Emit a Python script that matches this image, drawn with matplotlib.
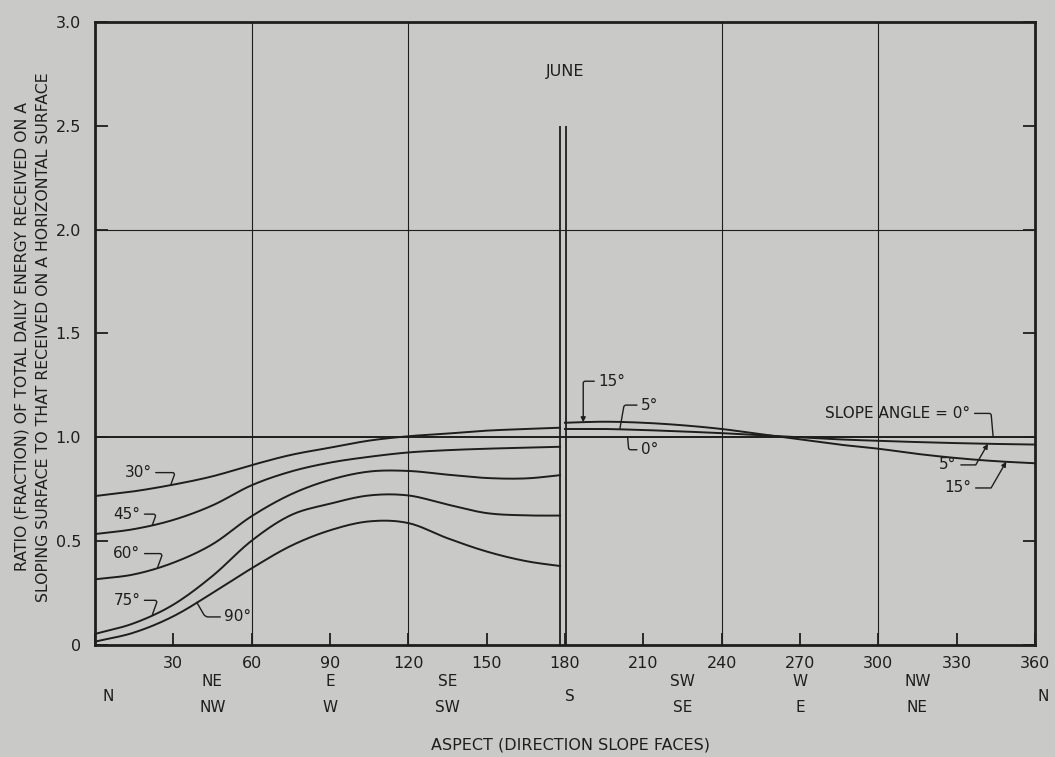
import numpy as np
import matplotlib
matplotlib.use("Agg")
import matplotlib.pyplot as plt

# ---- data (ratio of slope / horizontal daily energy, June) ----
# north-facing half: aspect 0..180, steep slopes
aspect_left = [0, 15, 30, 45, 60, 75, 90, 105, 120, 135, 150, 165, 180]
slope30 = [0.717, 0.74, 0.772, 0.812, 0.866, 0.915, 0.95, 0.984, 1.005, 1.018, 1.032, 1.04, 1.047]
slope45 = [0.534, 0.558, 0.602, 0.672, 0.769, 0.835, 0.878, 0.906, 0.927, 0.938, 0.945, 0.95, 0.955]
slope60 = [0.316, 0.34, 0.396, 0.485, 0.62, 0.725, 0.795, 0.835, 0.838, 0.82, 0.804, 0.802, 0.82]
slope75 = [0.053, 0.105, 0.194, 0.332, 0.502, 0.625, 0.68, 0.72, 0.72, 0.676, 0.635, 0.624, 0.623]
slope90 = [0.016, 0.06, 0.138, 0.25, 0.369, 0.477, 0.552, 0.595, 0.587, 0.514, 0.45, 0.404, 0.377]

# south-facing half: aspect 180..360, gentle slopes
aspect_right = [180, 195, 210, 225, 240, 255, 270, 285, 300, 315, 330, 345, 360]
slope5 = [1.04, 1.04, 1.035, 1.028, 1.02, 1.01, 1.0, 0.99, 0.983, 0.977, 0.972, 0.968, 0.965]
slope15 = [1.07, 1.075, 1.07, 1.058, 1.04, 1.015, 0.99, 0.965, 0.945, 0.92, 0.9, 0.885, 0.875]

aspect_full = [0, 360]
slope0 = [1.0, 1.0]

compass_top = [(45, "NE"), (90, "E"), (135, "SE"), (225, "SW"), (270, "W"), (315, "NW")]
compass_bot = [(45, "NW"), (90, "W"), (135, "SW"), (225, "SE"), (270, "E"), (315, "NE")]
compass_mid = [(0, "N"), (180, "S"), (360, "N")]

ink = "#1e1e1e"
paper = "#c9c9c8"


def smooth(xs, ys, n=16):
    # cubic hermite through the read points, just for drawing
    xs = np.asarray(xs, float)
    ys = np.asarray(ys, float)
    m = np.gradient(ys, xs)
    ox, oy = [], []
    for i in range(len(xs) - 1):
        h = xs[i + 1] - xs[i]
        t = np.linspace(0, 1, n, endpoint=False)
        h00 = 2 * t**3 - 3 * t**2 + 1
        h10 = t**3 - 2 * t**2 + t
        h01 = -2 * t**3 + 3 * t**2
        h11 = t**3 - t**2
        ox.append(xs[i] + t * h)
        oy.append(h00 * ys[i] + h10 * h * m[i] + h01 * ys[i + 1] + h11 * h * m[i + 1])
    ox.append([xs[-1]])
    oy.append([ys[-1]])
    return np.concatenate(ox), np.concatenate(oy)


plt.rcParams["font.family"] = "DejaVu Sans"
fig = plt.figure(figsize=(10.55, 7.57), dpi=100, facecolor=paper)
ax = fig.add_axes([0.090, 0.148, 0.891, 0.823], facecolor=paper)

ax.set_xlim(0, 360)
ax.set_ylim(0, 3.0)

# grid
for gx in [60, 120, 240, 300]:
    ax.axvline(gx, color=ink, lw=0.8, zorder=1)
ax.axhline(2.0, color=ink, lw=0.8, zorder=1)

# curves
left = {"30°": slope30, "45°": slope45, "60°": slope60, "75°": slope75, "90°": slope90}
right = {"5°": slope5, "15°": slope15}
for name, vals in left.items():
    sx, sy = smooth(aspect_left, vals)
    keep = sx <= 178.3
    ax.plot(sx[keep], sy[keep], color=ink, lw=1.4, zorder=3)
for name, vals in right.items():
    sx, sy = smooth(aspect_right, vals)
    ax.plot(sx, sy, color=ink, lw=1.4, zorder=3)
ax.plot(aspect_full, slope0, color=ink, lw=1.4, zorder=3)

# double separator line at south
ax.vlines([178.0, 180.4], 0, 2.5, color=ink, lw=1.3, zorder=4)

# spines / ticks
for s in ax.spines.values():
    s.set_linewidth(2.0)
    s.set_color(ink)
ax.set_xticks(np.arange(0, 361, 30))
ax.set_xticklabels([""] + [str(v) for v in range(30, 361, 30)])
ax.set_yticks(np.arange(0, 3.01, 0.5))
ax.set_yticklabels(["0", "0.5", "1.0", "1.5", "2.0", "2.5", "3.0"])
ax.tick_params(axis="both", direction="in", length=9, width=1.3, colors=ink,
               labelsize=11.5, labelcolor=ink)
ax.tick_params(axis="y", right=True, pad=10)
ax.tick_params(axis="x", pad=8)

# compass directions under the degrees
tr = ax.get_xaxis_transform()
for x, lab in compass_top:
    ax.text(x, -0.058, lab, transform=tr, ha="center", va="center", fontsize=11, color=ink)
for x, lab in compass_bot:
    ax.text(x, -0.101, lab, transform=tr, ha="center", va="center", fontsize=11, color=ink)
for x, lab in compass_mid:
    ax.text(x + (5 if x == 0 else 3 if x == 360 else 2), -0.083, lab, transform=tr,
            ha="center", va="center", fontsize=11, color=ink)

ax.text(182, -0.16, "ASPECT (DIRECTION SLOPE FACES)", transform=tr, ha="center",
        va="center", fontsize=11.5, color=ink)

fig.text(0.031, 0.555,
         "RATIO (FRACTION) OF TOTAL DAILY ENERGY RECEIVED ON A\n"
         "SLOPING SURFACE TO THAT RECEIVED ON A HORIZONTAL SURFACE",
         rotation=90, ha="center", va="center", fontsize=11.3, color=ink,
         linespacing=1.55, multialignment="center")

ax.text(180, 2.76, "JUNE", ha="center", va="center", fontsize=11.5, color=ink)


# labels with hand-drawn style leaders
def label(txt, series_x, series_y, at, pos, conn, arrow=False, ha="center"):
    y_at = np.interp(at, series_x, series_y)
    ax.annotate(txt, xy=(at, y_at), xytext=pos, ha=ha, va="center", fontsize=11,
                color=ink,
                arrowprops=dict(arrowstyle="-|>" if arrow else "-", color=ink, lw=1.0,
                                mutation_scale=7, shrinkA=1, shrinkB=0,
                                connectionstyle=conn))


label("30°", aspect_left, slope30, 29, (16.5, 0.83), "angle,angleA=0,angleB=70,rad=3")
label("45°", aspect_left, slope45, 22, (12.2, 0.63), "angle,angleA=0,angleB=70,rad=3")
label("60°", aspect_left, slope60, 24, (12.2, 0.44), "angle,angleA=0,angleB=70,rad=3")
label("75°", aspect_left, slope75, 22, (12.2, 0.215), "angle,angleA=0,angleB=70,rad=3")
label("90°", aspect_left, slope90, 39, (54.8, 0.135), "angle,angleA=180,angleB=-60,rad=3")

label("15°", aspect_right, slope15, 187, (198, 1.27), "angle,angleA=180,angleB=90,rad=2", arrow=True)
label("5°", aspect_right, slope5, 201, (212.5, 1.155), "angle,angleA=180,angleB=80,rad=2")
label("0°", aspect_full, slope0, 204, (212.5, 0.94), "angle,angleA=180,angleB=-85,rad=2")
label("SLOPE ANGLE = 0°", aspect_full, slope0, 344, (307.5, 1.115),
      "angle,angleA=0,angleB=95,rad=2")
label("5°", aspect_right, slope5, 342, (326.7, 0.867), "angle,angleA=0,angleB=-120,rad=0",
      arrow=True)
label("15°", aspect_right, slope15, 349, (330.5, 0.756), "angle,angleA=0,angleB=-120,rad=0",
      arrow=True)

fig.savefig("out.png", dpi=100, facecolor=paper)
